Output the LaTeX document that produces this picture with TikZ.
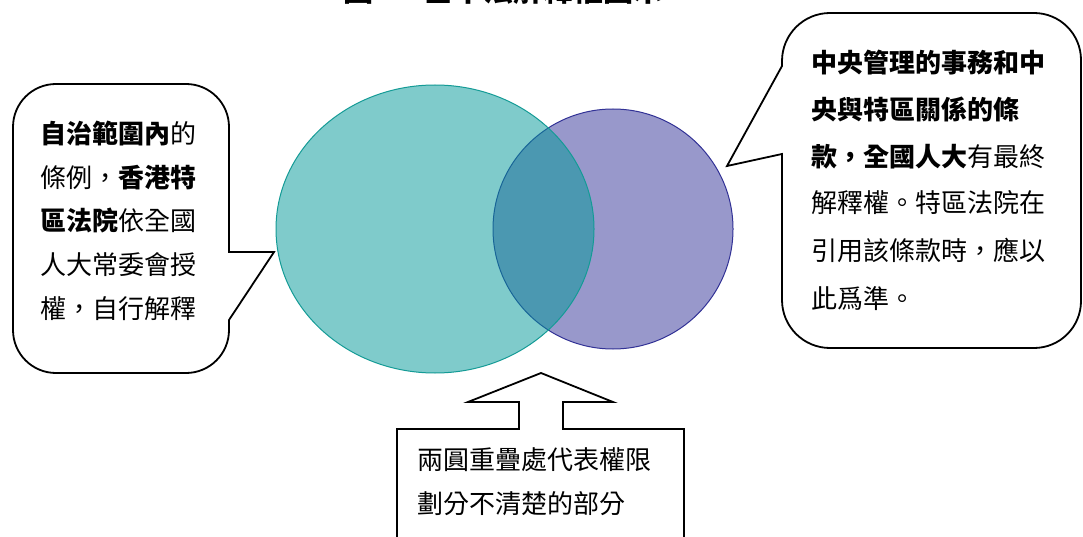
\documentclass[tikz,border=0pt]{standalone}
\usepackage{fontspec}
\setmainfont{Noto Sans CJK TC}
\definecolor{tealfill}{RGB}{0,153,153}
\definecolor{tealline}{RGB}{20,155,150}
\definecolor{purpfill}{RGB}{51,51,153}
\definecolor{purpline}{RGB}{50,50,150}
\begin{document}
\begin{tikzpicture}[x=1pt,y=1pt,
  bubble/.style={draw=black,line width=1.8pt,fill=white,line join=miter},
  txt/.style={anchor=base west,inner sep=0pt,font=\fontsize{26}{26}\selectfont},
  ttl/.style={anchor=base west,inner sep=0pt,font=\fontsize{30}{30}\selectfont\bfseries}]
\useasboundingbox (0,0) rectangle (1083,-537);
\clip (0,0) rectangle (1083,-537);
\fill[white] (0,0) rectangle (1083,-537);
% title (mostly cut off at the top)
\node[ttl] (t1) at (343,-2) {圖一};
\node[ttl] (t2) at (423,-2) {基本法解釋權圖示};
% circles
\filldraw[draw=purpline,line width=1pt,fill=purpfill,fill opacity=0.5] (613,-229) circle[radius=120pt];
\filldraw[draw=tealline,line width=1pt,fill=tealfill,fill opacity=0.5] (435,-229) ellipse[x radius=159pt,y radius=144pt];
% left bubble
\draw[bubble] (56,-84) -- (186,-84) arc[start angle=90,end angle=0,radius=43pt]
  -- (229,-252) -- (274,-252) -- (229,-320) -- (229,-330)
  arc[start angle=0,end angle=-90,radius=43pt] -- (56,-373)
  arc[start angle=270,end angle=180,radius=43pt] -- (13,-127)
  arc[start angle=180,end angle=90,radius=43pt] -- cycle;
% right bubble
\draw[bubble] (830,-13) -- (1034,-13) arc[start angle=90,end angle=0,radius=47pt]
  -- (1081,-301) arc[start angle=0,end angle=-90,radius=47pt] -- (830,-348)
  arc[start angle=270,end angle=180,radius=48pt] -- (782,-154) -- (727,-166) -- (782,-66)
  -- (782,-61) arc[start angle=180,end angle=90,radius=48pt] -- cycle;
% bottom arrow box
\draw[bubble] (397,-545) -- (397,-429) -- (519,-429) -- (519,-402) -- (468,-402)
  -- (541,-373) -- (613,-402) -- (563,-402) -- (563,-429) -- (684,-429) -- (684,-545) -- cycle;
% left text
\node[txt] (l1) at (40,-144) {\textbf{自治範圍內}的};
\node[txt] (l2) at (40,-188) {條例，\textbf{香港特}};
\node[txt] (l3) at (40,-231) {\textbf{區法院}依全國};
\node[txt] (l4) at (40,-274) {人大常委會授};
\node[txt] (l5) at (40,-318) {權，自行解釋};
% right text
\node[txt] (r1) at (811,-73) {\textbf{中央管理的事務和中}};
\node[txt] (r2) at (811,-120) {\textbf{央與特區關係的條}};
\node[txt] (r3) at (811,-167) {\textbf{款，全國人大}有最終};
\node[txt] (r4) at (811,-213) {解釋權。特區法院在};
\node[txt] (r5) at (811,-260) {引用該條款時，應以};
\node[txt] (r6) at (811,-308) {此爲準。};
% bottom text
\node[txt] (b1) at (417,-469) {兩圓重疊處代表權限};
\node[txt] (b2) at (417,-513) {劃分不清楚的部分};
\end{tikzpicture}
\end{document}
